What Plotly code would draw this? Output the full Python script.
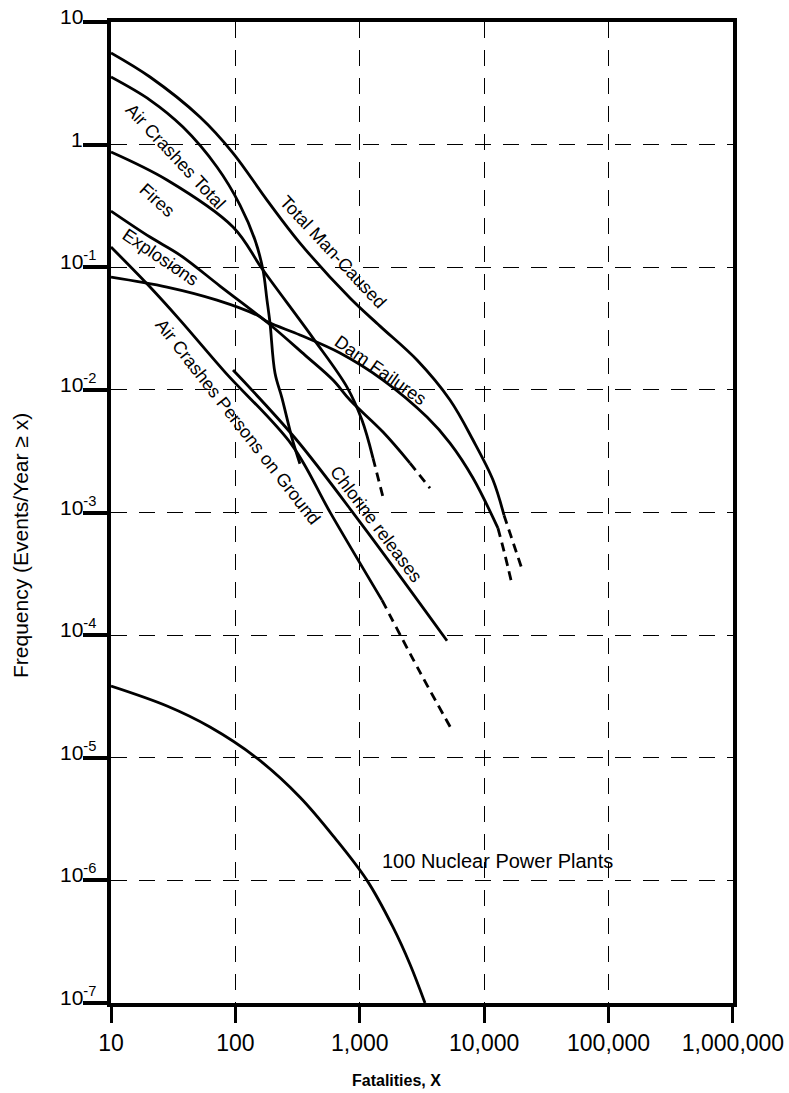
import math
import plotly.graph_objects as go

# ---------------- data (fatalities X, frequency of events/year >= X) ----------------
total_x = [10, 20.6, 51.9, 95.7, 179.5, 330.6, 834, 1454, 2883, 5311, 8128, 11770, 14430]
total_y = [5.6, 3.56, 1.68, 0.854, 0.353, 0.1575, 0.0561, 0.0331, 0.0175, 0.00826, 0.0039, 0.00184, 0.00095]
total_ext_x = [14430, 20510]
total_ext_y = [0.00095, 0.000327]

aircrash_x = [10, 20.6, 37.9, 71.1, 108.9, 143.8, 166.7, 179.5, 189.7, 208.1, 236.9, 285.1, 330]
aircrash_y = [3.56, 2.31, 1.39, 0.657, 0.3217, 0.1667, 0.0949, 0.054, 0.0351, 0.01371, 0.00857, 0.00405, 0.0025]

fires_x = [10, 28.2, 95.7, 166.7, 420.6, 789, 1041, 1277]
fires_y = [0.87, 0.5145, 0.2128, 0.0949, 0.02645, 0.01054, 0.00567, 0.00278]
fires_ext_x = [1277, 1537]
fires_ext_y = [0.00278, 0.001335]

explosions_x = [10, 20.6, 35.9, 75.2, 182.8, 362.6, 609, 834, 1537, 2532]
explosions_y = [0.2873, 0.1763, 0.1257, 0.0703, 0.0351, 0.0192, 0.01202, 0.00826, 0.00453, 0.00253]
explosions_ext_x = [2532, 3667]
explosions_ext_y = [0.00253, 0.00158]

dam_x = [10, 28.2, 71.1, 149.1, 182.8, 330.6, 693, 1537, 3469, 5311, 8128, 12904]
dam_y = [0.0832, 0.069, 0.054, 0.0407, 0.0357, 0.028, 0.01996, 0.01202, 0.006, 0.00368, 0.00191, 0.000746]
dam_ext_x = [12904, 14700, 16430]
dam_ext_y = [0.000746, 0.000449, 0.000281]

ground_x = [10, 20.6, 35.9, 82.5, 285.1, 576, 1508]
ground_y = [0.1462, 0.069, 0.0371, 0.01397, 0.003547, 0.001008, 0.000193]
ground_ext_x = [1508, 3047, 5510]
ground_ext_y = [0.000193, 0.0000499, 0.0000168]

chlorine_x = [95.7, 301.4, 1004, 5023]
chlorine_y = [0.0145, 0.00405, 0.000835, 0.00009]

nuclear_x = [10, 28.2, 62.5, 149.1, 330.6, 632, 1143, 1849, 2532, 3343]
nuclear_y = [3.84e-5, 2.64e-5, 1.78e-5, 9.92e-6, 4.77e-6, 2.21e-6, 1.0e-6, 4.15e-7, 2.07e-7, 1.0e-7]

x_tick_vals = [10, 100, 1000, 10000, 100000, 1000000]
x_tick_text = ["10", "100", "1,000", "10,000", "100,000", "1,000,000"]
y_tick_vals = [1e-7, 1e-6, 1e-5, 1e-4, 1e-3, 1e-2, 1e-1, 1, 10]
y_tick_text = ["10<sup>-7</sup>", "10<sup>-6</sup>", "10<sup>-5</sup>", "10<sup>-4</sup>",
               "10<sup>-3</sup>", "10<sup>-2</sup>", "10<sup>-1</sup>", "1", "10"]

# curve labels: text, (x, y) placement in data units, rotation
curve_labels = [
    ("Total Man-Caused", 609, 0.133, 47),
    ("Air Crashes Total", 33.3, 0.792, 47),
    ("Fires", 23.4, 0.353, 42),
    ("Explosions", 24.8, 0.1211, 34),
    ("Dam Failures", 1454, 0.0145, 35),
    ("Air Crashes Persons on Ground", 104.9, 0.00546, 52),
    ("Chlorine releases", 1350, 0.000804, 53),
    ("100 Nuclear Power Plants", 12910, 1.43e-6, 0),
]

FONT = "Liberation Sans, Arial, Helvetica, sans-serif"

fig = go.Figure()


def add(x, y, dashed=False):
    fig.add_trace(go.Scatter(
        x=x, y=y, mode="lines",
        line=dict(color="black", width=2.8, shape="spline", smoothing=1.0,
                  dash="9px,6px" if dashed else "solid"),
        hoverinfo="skip", showlegend=False))


add(total_x, total_y)
add(total_ext_x, total_ext_y, True)
add(aircrash_x, aircrash_y)
add(fires_x, fires_y)
add(fires_ext_x, fires_ext_y, True)
add(explosions_x, explosions_y)
add(explosions_ext_x, explosions_ext_y, True)
add(dam_x, dam_y)
add(dam_ext_x, dam_ext_y, True)
add(ground_x, ground_y)
add(ground_ext_x, ground_ext_y, True)
add(chlorine_x, chlorine_y)
add(nuclear_x, nuclear_y)

annotations = []
for text, lx, ly, ang in curve_labels:
    annotations.append(dict(
        x=math.log10(lx), y=math.log10(ly), xref="x", yref="y", text=text,
        showarrow=False, textangle=ang, xanchor="center", yanchor="middle",
        font=dict(family=FONT, size=20 if ang == 0 else 18, color="black")))

# y tick labels sit just above their tick marks
for v, t in zip(y_tick_vals, y_tick_text):
    has_sup = "<sup>" in t
    annotations.append(dict(
        x=(97 - 111) / 622 if has_sup else (84 - 111) / 622, xref="paper",
        y=math.log10(v), yref="y", text=t, showarrow=False,
        xanchor="right", yanchor="bottom", yshift=-7, borderpad=0,
        font=dict(family=FONT, size=21, color="black")))

annotations.append(dict(
    x=(396 - 111) / 622, xref="paper", y=(1003 - 1080) / 981, yref="paper",
    text="<b>Fatalities, X</b>", showarrow=False, xanchor="center", yanchor="middle",
    borderpad=0, font=dict(family=FONT, size=16, color="black")))
annotations.append(dict(
    x=(20 - 111) / 622, xref="paper", y=(1003 - 546) / 981, yref="paper",
    text="Frequency (Events/Year \u2265 x)", showarrow=False, textangle=-90,
    xanchor="center", yanchor="middle",
    font=dict(family=FONT, size=21, color="black")))

fig.update_layout(
    width=789, height=1093,
    margin=dict(l=111, r=56, t=22, b=90, autoexpand=False),
    paper_bgcolor="white", plot_bgcolor="white",
    showlegend=False,
    annotations=annotations,
    xaxis=dict(
        type="log", range=[1, 6.0002],
        tickvals=x_tick_vals, ticktext=x_tick_text,
        ticks="outside", ticklen=16, tickwidth=3, tickcolor="black",
        showline=True, linewidth=4, linecolor="black", mirror=True,
        showgrid=True, gridcolor="black", gridwidth=1, griddash="16px,12px",
        zeroline=False, ticklabeloverflow="allow",
        tickfont=dict(family=FONT, size=23, color="black"),
    ),
    yaxis=dict(
        type="log", range=[-7, 1],
        tickvals=y_tick_vals, showticklabels=False,
        ticks="outside", ticklen=24, tickwidth=3.5, tickcolor="black",
        showline=True, linewidth=4, linecolor="black", mirror=True,
        showgrid=True, gridcolor="black", gridwidth=1, griddash="16px,12px",
        zeroline=False,
    ),
)

# remove the default page margin so the figure fills the window exactly
fig.write_html(
    "out.html",
    config={"displayModeBar": False},
    post_script="document.body.style.margin='0px';document.body.style.overflow='hidden';",
)
